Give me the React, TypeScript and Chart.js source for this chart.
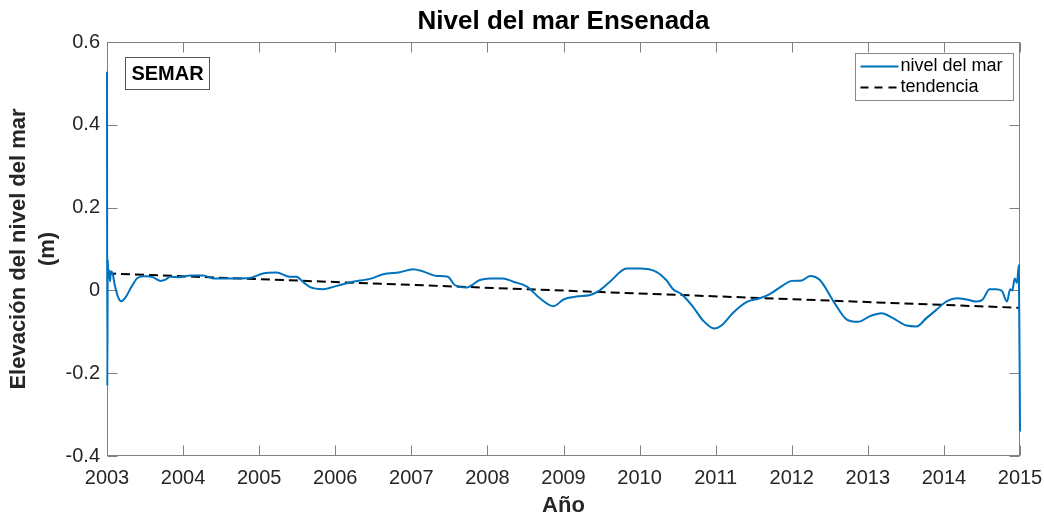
import React, { useEffect, useRef } from "react";
import { Chart, registerables } from "chart.js";

Chart.register(...registerables);

const FONT = "'Liberation Sans', Arial, Helvetica, sans-serif";

const titleText = "Nivel del mar Ensenada";
const xTitle = "Año";
const yTitle = ["Elevación del nivel del mar", "(m)"];
const boxLabel = "SEMAR";

const xTicks = [2003, 2004, 2005, 2006, 2007, 2008, 2009, 2010, 2011, 2012, 2013, 2014, 2015];
const yTicks = [-0.4, -0.2, 0, 0.2, 0.4, 0.6];

const seaYears = [
  2003.0, 2003.004, 2003.01, 2003.018, 2003.028, 2003.04, 2003.05, 2003.075, 2003.1, 2003.15,
  2003.19, 2003.24, 2003.32, 2003.4, 2003.5, 2003.6, 2003.7, 2003.77, 2003.83, 2003.95,
  2004.1, 2004.26, 2004.4, 2004.65, 2004.88, 2005.05, 2005.23, 2005.4, 2005.49, 2005.58,
  2005.67, 2005.84, 2006.02, 2006.23, 2006.4, 2006.48, 2006.63, 2006.85, 2007.02, 2007.15,
  2007.33, 2007.48, 2007.57, 2007.73, 2007.78, 2007.9, 2008.03, 2008.2, 2008.34, 2008.52,
  2008.69, 2008.87, 2009.0, 2009.17, 2009.35, 2009.45, 2009.61, 2009.83, 2010.0, 2010.22,
  2010.35, 2010.44, 2010.55, 2010.7, 2010.83, 2010.98, 2011.08, 2011.23, 2011.41, 2011.58,
  2011.71, 2011.89, 2012.0, 2012.13, 2012.24, 2012.37, 2012.55, 2012.72, 2012.87, 2013.03,
  2013.18, 2013.33, 2013.51, 2013.64, 2013.77, 2013.9, 2014.04, 2014.17, 2014.3, 2014.43,
  2014.51, 2014.6, 2014.68, 2014.76, 2014.83, 2014.87, 2014.9, 2014.93, 2014.96, 2014.985,
  2015.0,
];

const seaLevel = [
  0.528, -0.231, 0.075, 0.03, 0.048, 0.022, 0.046, 0.04, 0.015, -0.018,
  -0.026, -0.018, 0.008, 0.03, 0.034, 0.032, 0.023, 0.026, 0.033, 0.032,
  0.036, 0.036, 0.029, 0.029, 0.03, 0.041, 0.043, 0.033, 0.033, 0.02,
  0.008, 0.003, 0.011, 0.021, 0.026, 0.029, 0.039, 0.044, 0.051, 0.046,
  0.035, 0.033, 0.013, 0.007, 0.011, 0.025, 0.029, 0.029, 0.021, 0.009,
  -0.019, -0.038, -0.022, -0.015, -0.011, -0.003, 0.021, 0.053, 0.053, 0.045,
  0.025, 0.003, -0.009, -0.039, -0.072, -0.092, -0.084, -0.054, -0.028, -0.019,
  -0.009, 0.013, 0.023, 0.024, 0.035, 0.025, -0.027, -0.07, -0.076, -0.062,
  -0.055, -0.067, -0.085, -0.087, -0.067, -0.047, -0.026, -0.019, -0.022, -0.027,
  -0.022, 0.003, 0.003, -0.001, -0.027, 0.003, 0.0, 0.029, 0.018, 0.061,
  -0.341,
];

const trendYears = [2003, 2015];
const trendValues = [0.041, -0.042];

const AXIS_COLOR = "#808080";
const TEXT_COLOR = "#262626";

const framePlugin = {
  id: "matlabFrame",
  beforeDatasetsDraw(chart: any) {
    const { ctx, chartArea, scales } = chart;
    const { left, right, top, bottom } = chartArea;
    ctx.save();
    ctx.strokeStyle = AXIS_COLOR;
    ctx.lineWidth = 1;
    const l = Math.round(left) + 0.5;
    const r = Math.round(right) - 0.5;
    const t = Math.round(top) + 0.5;
    const b = Math.round(bottom) - 0.5;
    ctx.strokeRect(l, t, r - l, b - t);
    const len = 10;
    ctx.beginPath();
    scales.x.ticks.forEach((tk: any) => {
      const px = Math.round(scales.x.getPixelForValue(tk.value)) + 0.5;
      ctx.moveTo(px, b);
      ctx.lineTo(px, b - len);
      ctx.moveTo(px, t);
      ctx.lineTo(px, t + len);
    });
    scales.y.ticks.forEach((tk: any) => {
      const py = Math.round(scales.y.getPixelForValue(tk.value)) + 0.5;
      ctx.moveTo(l, py);
      ctx.lineTo(l + len, py);
      ctx.moveTo(r, py);
      ctx.lineTo(r - len, py);
    });
    ctx.stroke();
    ctx.restore();
  },
  afterDraw(chart: any) {
    const { ctx, chartArea } = chart;
    const { left, right, top } = chartArea;
    ctx.save();
    // Title centred over the plot area
    ctx.fillStyle = "#000000";
    ctx.font = `bold 26px ${FONT}`;
    ctx.textAlign = "center";
    ctx.textBaseline = "alphabetic";
    ctx.fillText(titleText, (left + right) / 2, 29);

    // SEMAR label box
    const bx = Math.round(left) + 18.5;
    const by = Math.round(top) + 15.5;
    const bw = 84;
    const bh = 32;
    ctx.fillStyle = "#ffffff";
    ctx.fillRect(bx, by, bw, bh);
    ctx.strokeStyle = "#555555";
    ctx.lineWidth = 1;
    ctx.strokeRect(bx, by, bw, bh);
    ctx.fillStyle = "#000000";
    ctx.font = `bold 20px ${FONT}`;
    ctx.textAlign = "center";
    ctx.textBaseline = "middle";
    ctx.fillText(boxLabel, bx + bw / 2, by + bh / 2 + 1);

    // Legend
    const lw = 158;
    const lh = 47;
    const lx = Math.round(right) - 7 - lw + 0.5;
    const ly = Math.round(top) + 11.5;
    ctx.fillStyle = "#ffffff";
    ctx.fillRect(lx, ly, lw, lh);
    ctx.strokeStyle = "#888888";
    ctx.strokeRect(lx, ly, lw, lh);
    ctx.font = `18px ${FONT}`;
    ctx.textAlign = "left";
    ctx.textBaseline = "middle";
    chart.data.datasets.forEach((ds: any, i: number) => {
      const cy = ly + 13 + i * 21;
      ctx.beginPath();
      ctx.strokeStyle = ds.borderColor;
      ctx.lineWidth = 2;
      ctx.setLineDash(ds.borderDash && ds.borderDash.length ? [8, 6] : []);
      ctx.moveTo(lx + 5, cy);
      ctx.lineTo(lx + 43, cy);
      ctx.stroke();
      ctx.setLineDash([]);
      ctx.fillStyle = "#000000";
      ctx.fillText(ds.label, lx + 45, cy);
    });
    ctx.restore();
  },
};

export default function App() {
  const canvasRef = useRef<HTMLCanvasElement | null>(null);

  useEffect(() => {
    if (!canvasRef.current) return;
    Chart.defaults.font.family = FONT;
    const chart = new Chart(canvasRef.current, {
      type: "line",
      data: {
        datasets: [
          {
            label: "nivel del mar",
            data: seaYears.map((x, i) => ({ x, y: seaLevel[i] })),
            borderColor: "#0072BD",
            borderWidth: 2,
            pointRadius: 0,
            cubicInterpolationMode: "monotone",
            clip: 4,
            fill: false,
          },
          {
            label: "tendencia",
            data: trendYears.map((x, i) => ({ x, y: trendValues[i] })),
            borderColor: "#000000",
            borderWidth: 2,
            borderDash: [9, 5],
            pointRadius: 0,
            fill: false,
          },
        ],
      },
      options: {
        animation: false,
        responsive: false,
        events: [],
        layout: { padding: { left: 0, right: 24, top: 42, bottom: 0 } },
        plugins: {
          legend: { display: false },
          tooltip: { enabled: false },
          title: { display: false },
        },
        scales: {
          x: {
            type: "linear",
            min: xTicks[0],
            max: xTicks[xTicks.length - 1],
            afterBuildTicks: (scale: any) => {
              scale.ticks = xTicks.map((v) => ({ value: v }));
            },
            afterFit: (scale: any) => {
              scale.height = 62;
              scale.paddingLeft = 0;
              scale.paddingRight = 0;
            },
            grid: { display: false, drawTicks: false },
            border: { display: false },
            ticks: {
              color: TEXT_COLOR,
              font: { family: FONT, size: 20 },
              padding: 10,
              maxRotation: 0,
              autoSkip: false,
              callback: (v: any) => String(v),
            },
            title: {
              display: true,
              text: xTitle,
              color: TEXT_COLOR,
              font: { family: FONT, size: 22, weight: "bold", lineHeight: 1.0 },
              padding: { top: 0, bottom: 1 },
            },
          },
          y: {
            type: "linear",
            min: yTicks[0],
            max: yTicks[yTicks.length - 1],
            afterBuildTicks: (scale: any) => {
              scale.ticks = yTicks.map((v) => ({ value: v }));
            },
            afterFit: (scale: any) => {
              scale.width = 107;
              scale.paddingTop = 0;
              scale.paddingBottom = 0;
            },
            grid: { display: false, drawTicks: false },
            border: { display: false },
            ticks: {
              color: TEXT_COLOR,
              font: { family: FONT, size: 20 },
              padding: 7,
              autoSkip: false,
              callback: (v: any) => String(Math.round(Number(v) * 10) / 10 || 0),
            },
            title: {
              display: true,
              text: yTitle,
              color: TEXT_COLOR,
              font: { family: FONT, size: 22, weight: "bold", lineHeight: 1.3 },
              padding: { top: 5, bottom: 0 },
            },
          },
        },
      },
      plugins: [framePlugin],
    } as any);
    return () => chart.destroy();
  }, []);

  return (
    <canvas
      ref={canvasRef}
      width={1044}
      height={518}
      style={{ position: "fixed", left: 0, top: 0, width: 1044, height: 518, background: "#ffffff" }}
    />
  );
}
